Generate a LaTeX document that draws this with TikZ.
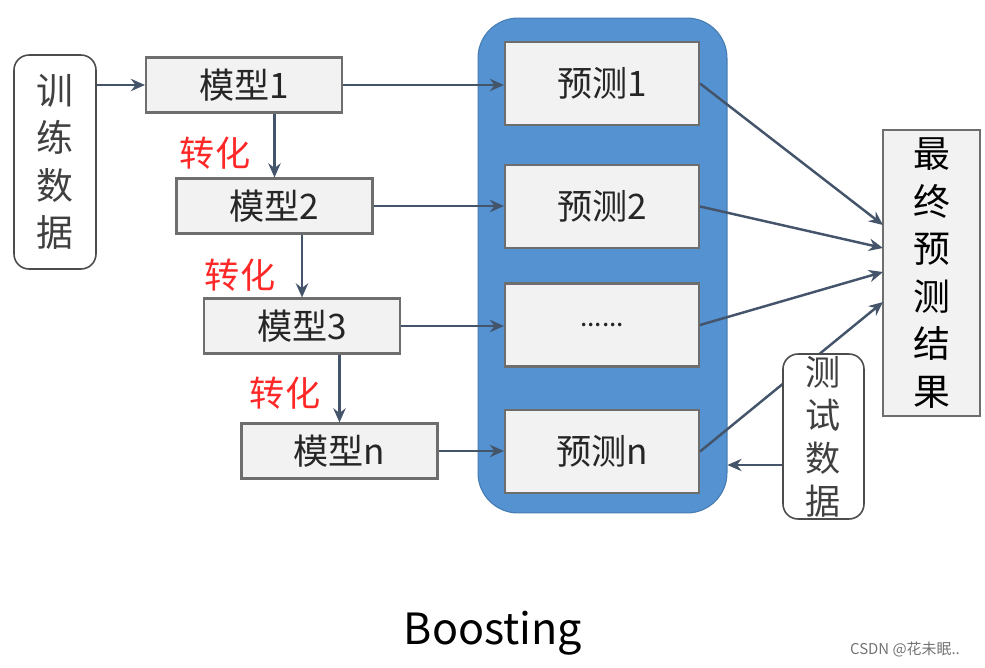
\documentclass[tikz,border=0pt]{standalone}
\usepackage{fontspec}
\setmainfont{Noto Sans CJK SC}
\usepackage{xcolor}
\usetikzlibrary{arrows.meta}
\definecolor{boxgray}{RGB}{242,242,242}
\definecolor{edgegray}{RGB}{110,110,110}
\definecolor{arrowslate}{RGB}{68,84,106}
\definecolor{poolblue}{RGB}{84,146,210}
\definecolor{labred}{RGB}{255,40,40}
\tikzset{
  mbox/.style={draw=edgegray, line width=1.2pt, fill=boxgray, minimum width=3.92cm, minimum height=1.1cm, font=\fontsize{20}{22}\selectfont, text=black!85},
  pbox/.style={draw=edgegray, line width=1.2pt, fill=boxgray, minimum width=3.88cm, minimum height=1.66cm, font=\fontsize{20}{22}\selectfont, text=black!85},
  arr/.style={draw=arrowslate, line width=1.4pt, -{Stealth[length=8pt,width=7pt]}},
  conv/.style={text=labred, font=\fontsize{20}{22}\selectfont},
}
\begin{document}
\begin{tikzpicture}[x=0.02cm, y=-0.02cm]
\useasboundingbox (0,0) rectangle (985,667);
\node[fill=poolblue, draw=poolblue!85!black, line width=0.6pt, rounded corners=0.8cm, minimum width=4.98cm, minimum height=9.9cm] (pool) at (602.5,265.5) {};
\node[draw=black!70, line width=0.9pt, fill=white, rounded corners=0.3cm, minimum width=1.64cm, minimum height=4.28cm, align=center, font=\fontsize{21}{27}\selectfont, text=black!75] (train) at (55,162) {训\\练\\数\\据};
\node[mbox] (m1) at (244,85) {模型1};
\node[mbox] (m2) at (274.5,206) {模型2};
\node[mbox] (m3) at (302,326) {模型3};
\node[mbox] (mn) at (339.5,451) {模型n};
\node[pbox] (p1) at (602,83.5) {预测1};
\node[pbox] (p2) at (602,206.5) {预测2};
\node[pbox, font=\fontsize{15}{18}\selectfont] (p3) at (602,325) {......};
\node[pbox] (pn) at (602,451.5) {预测n};
\node[draw=edgegray, line width=1.2pt, fill=boxgray, minimum width=1.94cm, minimum height=5.72cm, align=center, font=\fontsize{21}{27}\selectfont] (final) at (931.5,273) {最\\终\\预\\测\\结\\果};
\node[conv] (c1) at (215,153) {转化};
\node[conv] (c2) at (240,275) {转化};
\node[conv] (c3) at (285,393) {转化};
\coordinate (f1) at (883,225);
\coordinate (f2) at (883,248);
\coordinate (f3) at (883,272);
\coordinate (f4) at (883,302);
\draw[arr] (train.east |- m1) -- (m1.west);
\draw[arr] (m1.south -| m2) -- (m2.north);
\draw[arr] (m2.south -| m3) -- (m3.north);
\draw[arr] (m3.south -| mn) -- (mn.north);
\draw[arr] (m1.east) -- (p1.west |- m1);
\draw[arr] (m2.east) -- (p2.west |- m2);
\draw[arr] (m3.east) -- (p3.west |- m3);
\draw[arr] (mn.east) -- (pn.west |- mn);
\draw[arr] (p1.east) -- (f1);
\draw[arr] (p2.east) -- (f2);
\draw[arr] (p3.east) -- (f3);
\draw[arr] (pn.east) -- (f4);
\node[draw=black!70, line width=0.9pt, fill=white, rounded corners=0.3cm, minimum width=1.62cm, minimum height=3.3cm, inner sep=0pt, align=center, font=\fontsize{20}{24.5}\selectfont, text=black!75] (test) at (823.5,436.5) {测\\试\\数\\据};
\draw[arr] ([yshift=-0.57cm]test.west) -- ([yshift=-0.57cm]test.west -| pool.east);
\node[font=\fontsize{24.5}{28}\selectfont] (title) at (493,633) {Boosting};
\node[text=black!55, font=\fontsize{8.5}{10}\selectfont] (mark) at (905,650) {CSDN @花未眠..};
\end{tikzpicture}
\end{document}
